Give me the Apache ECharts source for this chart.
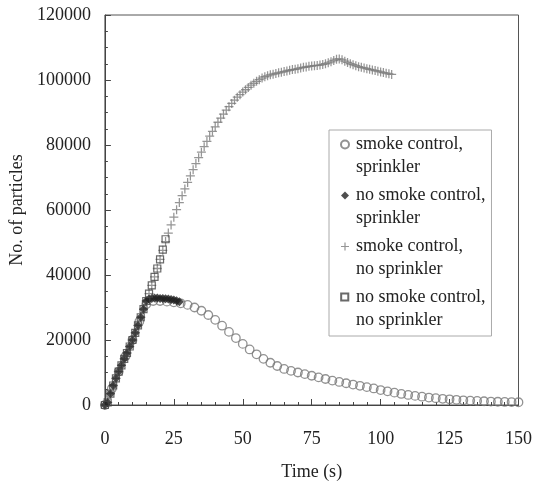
<!DOCTYPE html>
<html>
<head>
<meta charset="UTF-8">
<title>No. of particles</title>
<script src="https://cdn.jsdelivr.net/npm/echarts@6/dist/echarts.min.js"></script>
</head>
<body style="margin:0;background:#fff;">
<div id="container" style="width:535px;height:486px;"></div>
<script>
// sampled once a second (diamonds, pluses, squares) or every 2.5 s (circles)
var circleStep = 2.5;
var circleV = [0, 5000, 10300, 15000, 20000, 25700, 31000, 32000, 32000, 31800,
  31600, 31300, 30800, 30000, 29000, 27700, 26200, 24400, 22500, 20600,
  18800, 17100, 15600, 14200, 13000, 12000, 11100, 10500, 10000, 9500,
  9000, 8500, 8000, 7500, 7100, 6700, 6300, 5900, 5500, 5100,
  4600, 4200, 3800, 3400, 3100, 2800, 2550, 2300, 2100, 1900,
  1750, 1600, 1450, 1350, 1250, 1150, 1050, 1000, 950, 900, 850];

var diamondV = [0, 800, 3500, 6000, 8200, 10300, 12200, 14200, 16000, 18000,
  20000, 22200, 24500, 27000, 29500, 32000, 32600, 32800, 32900, 32900,
  32800, 32800, 32700, 32600, 32500, 32300, 32100, 31800];

var plusV = [0, 800, 3500, 6000, 8200, 10300, 12200, 14200, 16000, 18000,
  20000, 22200, 24500, 27000, 29500, 32000, 34300, 36800, 39400, 42000,
  44800, 47600, 50300, 52900, 55400, 57800, 60100, 62300, 64400, 66500,
  68500, 70500, 72400, 74300, 76100, 77800, 79500, 81100, 82700, 84200,
  85600, 87000, 88300, 89500, 90700, 91800, 92800, 93800, 94700, 95500,
  96300, 97000, 97700, 98400, 99000, 99600, 100100, 100600, 101000, 101300,
  101600, 101800, 102000, 102200, 102400, 102600, 102800, 103000, 103200, 103300,
  103500, 103700, 103900, 104000, 104200, 104300, 104400, 104500, 104600, 104800,
  105000, 105300, 105600, 106000, 106400, 106500, 106200, 105800, 105400, 105000,
  104700, 104400, 104100, 103900, 103700, 103500, 103300, 103100, 102900, 102700,
  102500, 102300, 102100, 101900, 101700];

var squareV = [0, 800, 3500, 6000, 8200, 10300, 12200, 14200, 16000, 18000,
  20000, 22200, 24500, 27000, 29500, 32000, 34300, 36800, 39400, 42000,
  44800, 47800, 51000];

var seriesNames = ['smoke control,\nsprinkler', 'no smoke control,\nsprinkler',
  'smoke control,\nno sprinkler', 'no smoke control,\nno sprinkler'];

var xTicks = [0, 150, 25];
var yTicks = [0, 120000, 20000];

var font = 'Liberation Serif';
var plusPath = 'path://M4.3,0h1.4v10h-1.4z M0,4.3h10v1.4h-10z';

// legend icons: the mark sits at the top of a taller box so it lines up
// with the first line of the two-line legend text
var pad = ' M10,31L10,31';
var legendIcons = [
  'path://M0,4A4,4 0 1,1 8,4A4,4 0 1,1 0,4z' + pad,
  'path://M4,0L8,4L4,8L0,4z' + pad,
  'path://M3.4,0h1.2v8h-1.2z M0,3.4h8v1.2h-8z' + pad,
  'path://M0.5,0.5h7v7h-7z' + pad
];

var dom = document.getElementById('container');
var myChart = echarts.init(dom);

var option = {
  animation: false,
  textStyle: { fontFamily: font },
  grid: {
    left: 103, top: 15, right: 15, bottom: 76,
    show: true, borderColor: '#555', borderWidth: 1
  },
  legend: {
    orient: 'vertical',
    left: 329,
    top: 130,
    padding: [3, 6, 4, 11],
    itemGap: 5,
    itemWidth: 10,
    itemHeight: 31,
    borderColor: '#aaa',
    borderWidth: 1,
    textStyle: { fontFamily: font, fontSize: 18, color: '#222', lineHeight: 23 },
    data: seriesNames.map(function (n, i) { return { name: n, icon: legendIcons[i] }; })
  },
  xAxis: {
    type: 'value',
    min: xTicks[0], max: xTicks[1], interval: xTicks[2],
    name: 'Time (s)',
    nameLocation: 'middle',
    nameGap: 58,
    nameTextStyle: { fontFamily: font, fontSize: 18, color: '#222' },
    axisLine: { lineStyle: { color: '#444', width: 1 } },
    axisTick: { inside: true, length: 6, lineStyle: { color: '#444' } },
    minorTick: { show: true, splitNumber: 5, length: 3, lineStyle: { color: '#444' } },
    splitLine: { show: false },
    axisLabel: { fontFamily: font, fontSize: 18, color: '#222', margin: 25 }
  },
  yAxis: {
    type: 'value',
    min: yTicks[0], max: yTicks[1], interval: yTicks[2],
    name: 'No. of particles',
    nameLocation: 'middle',
    nameGap: 76,
    nameTextStyle: { fontFamily: font, fontSize: 18, color: '#222' },
    axisLine: { show: true, lineStyle: { color: '#444', width: 1 } },
    axisTick: { show: true, inside: true, length: 6, lineStyle: { color: '#444' } },
    minorTick: { show: true, splitNumber: 4, length: 3, lineStyle: { color: '#444' } },
    splitLine: { show: false },
    axisLabel: {
      fontFamily: font, fontSize: 18, color: '#222', margin: 14,
      formatter: function (v) { return String(v); }
    }
  },
  series: [
    {
      name: seriesNames[0],
      type: 'scatter',
      z: 2,
      symbol: 'circle',
      symbolSize: 8.5,
      itemStyle: { color: 'rgba(255,255,255,0)', borderColor: '#777', borderWidth: 1.3 },
      data: circleV.map(function (v, i) { return [i * circleStep, v]; })
    },
    {
      name: seriesNames[1],
      type: 'scatter',
      z: 4,
      symbol: 'diamond',
      symbolSize: 9,
      itemStyle: { color: '#222' },
      data: diamondV.map(function (v, i) { return [i, v]; })
    },
    {
      name: seriesNames[2],
      type: 'scatter',
      z: 3,
      symbol: plusPath,
      symbolSize: 9,
      itemStyle: { color: '#7a7a7a' },
      data: plusV.map(function (v, i) { return [i, v]; })
    },
    {
      name: seriesNames[3],
      type: 'scatter',
      z: 5,
      symbol: 'rect',
      symbolSize: 7,
      itemStyle: { color: 'rgba(255,255,255,0)', borderColor: '#444', borderWidth: 1.2 },
      data: squareV.map(function (v, i) { return [i, v]; })
    }
  ]
};

if (option && typeof option === 'object') {
  myChart.setOption(option);
}
</script>
</body>
</html>
